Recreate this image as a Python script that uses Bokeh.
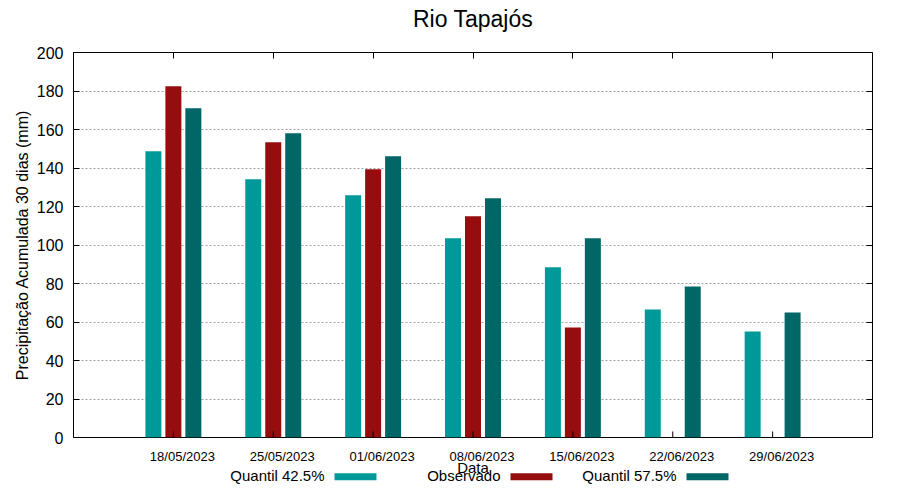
from bokeh.plotting import figure
from bokeh.layouts import column
from bokeh.models import Range1d, FixedTicker, LinearAxis
from bokeh.core.properties import value
from bokeh.embed import file_html
from bokeh.resources import INLINE
import math

# ---- data ----
title_text = "Rio Tapajós"
x_title = "Data"
y_title = "Precipitação Acumulada 30 dias (mm)"
dates = ["18/05/2023", "25/05/2023", "01/06/2023", "08/06/2023",
         "15/06/2023", "22/06/2023", "29/06/2023"]
q425 = [148.7, 134.1, 125.8, 103.5, 88.4, 66.5, 55.1]
observado = [182.5, 153.4, 139.3, 114.9, 57.2, float("nan"), float("nan")]
q575 = [171.0, 158.0, 146.1, 124.3, 103.5, 78.5, 65.0]
series_names = ["Quantil 42.5%", "Observado", "Quantil 57.5%"]
colors = ["#009999", "#960d0d", "#006666"]
y_ticks = list(range(0, 201, 20))

# ---- layout (canvas pixels) ----
W = 884
T_TOP, T_H = 0, 40            # title strip
M_TOP = T_TOP + T_H
FL, FR, FT, FB = 73, 872, 52, 437   # plot frame
M_H = FB + 10 - M_TOP         # main figure height
B_TOP = M_TOP + M_H           # bottom strip (tick labels, axis title, legend)
B_H = 484 - B_TOP

XMIN, XMAX, YMIN, YMAX = 0, len(dates) + 1, 0, 200
PXX = (FR - FL) / (XMAX - XMIN)
PXY = (FB - FT) / (YMAX - YMIN)

def cx(px):
    return XMIN + (px - FL) / PXX

FONT = "Liberation Sans"
groups = list(range(1, len(dates) + 1))
x_range = Range1d(XMIN, XMAX)

def strip(height):
    f = figure(width=W, height=height, output_backend="svg", toolbar_location=None,
               x_range=x_range, y_range=Range1d(height, 0),
               x_axis_type=None, y_axis_type=None,
               min_border_left=FL, min_border_right=W - FR,
               min_border_top=0, min_border_bottom=0)
    f.outline_line_color = None
    f.background_fill_color = "white"
    f.border_fill_color = "white"
    f.xgrid.visible = False
    f.ygrid.visible = False
    return f

# ---- title strip ----
t = strip(T_H)
t.text(x=[cx((FL + FR) / 2)], y=[18.5 - T_TOP], text=[title_text], text_align="center",
       text_baseline="middle", text_font=value(FONT), text_font_size="23px",
       text_color="black")

# ---- main plot ----
p = figure(width=W, height=M_H, output_backend="svg", toolbar_location=None,
           x_range=x_range, y_range=Range1d(YMIN, YMAX),
           x_axis_location="above",
           min_border_left=FL, min_border_right=W - FR,
           min_border_top=FT - M_TOP, min_border_bottom=M_TOP + M_H - FB)
p.outline_line_color = "black"
p.outline_line_width = 1
p.background_fill_color = "white"
p.border_fill_color = "white"

offsets = [-0.2, 0.0, 0.2]
bw = 16 / PXX
for vals, off, col in zip([q425, observado, q575], offsets, colors):
    xs = [g + off for g, v in zip(groups, vals) if not math.isnan(v)]
    tops = [v for v in vals if not math.isnan(v)]
    p.vbar(x=xs, top=tops, bottom=0, width=bw, fill_color=col, line_color=None)

p.xgrid.visible = False
p.ygrid.ticker = FixedTicker(ticks=y_ticks)
p.ygrid.grid_line_color = "#a0a0a0"
p.ygrid.grid_line_dash = "2 2"
p.ygrid.grid_line_width = 1

def style_axis(ax, tick_in=6):
    ax.axis_line_color = None
    ax.major_tick_in = tick_in
    ax.major_tick_out = 0
    ax.minor_tick_line_color = None
    ax.major_tick_line_color = "black"

def no_labels(ax):
    ax.major_label_overrides = {tk: "" for tk in ax.ticker.ticks}
    ax.major_label_standoff = 0

# top (mirror) x axis: ticks at each date
xa = p.xaxis[0]
xa.ticker = FixedTicker(ticks=groups)
style_axis(xa)
no_labels(xa)

# inward tick marks on the bottom edge at each date
p.segment(x0=groups, y0=[0] * len(groups), x1=groups, y1=[6 / PXY] * len(groups),
          line_color="black", line_width=1)

# left axis
ya = p.yaxis[0]
ya.ticker = FixedTicker(ticks=y_ticks)
style_axis(ya)
ya.major_label_standoff = 10
ya.major_label_text_font = FONT
ya.major_label_text_font_size = "16px"
ya.major_label_text_color = "black"
ya.axis_label = y_title
ya.axis_label_text_font = FONT
ya.axis_label_text_font_size = "16px"
ya.axis_label_text_font_style = "normal"
ya.axis_label_text_color = "black"
ya.axis_label_standoff = 3

right_ax = LinearAxis(ticker=FixedTicker(ticks=y_ticks))
style_axis(right_ax)
no_labels(right_ax)
p.add_layout(right_ax, "right")

# ---- bottom strip ----
b = strip(B_H)
# date labels (gnuplot puts them a little right of the tick)
b.text(x=[g + 9 / PXX for g in groups], y=[456 - B_TOP] * len(groups), text=dates,
       text_align="center", text_baseline="middle", text_font=value(FONT),
       text_font_size="13px", text_color="black")
b.text(x=[cx((FL + FR) / 2)], y=[467 - B_TOP], text=[x_title], text_align="center",
       text_baseline="middle", text_font=value(FONT), text_font_size="15px",
       text_color="black")
swatch_left = [334, 510, 686]
b.quad(left=[cx(s) for s in swatch_left], right=[cx(s + 42) for s in swatch_left],
       top=[472.7 - B_TOP] * 3, bottom=[479.7 - B_TOP] * 3, fill_color=colors,
       line_color=None)
b.text(x=[cx(s - 10) for s in swatch_left], y=[475.2 - B_TOP] * 3, text=series_names,
       text_align="right", text_baseline="middle", text_font=value(FONT),
       text_font_size="15px", text_color="black")

layout = column(t, p, b, spacing=0)
open("out.html", "w").write(file_html(layout, INLINE))
